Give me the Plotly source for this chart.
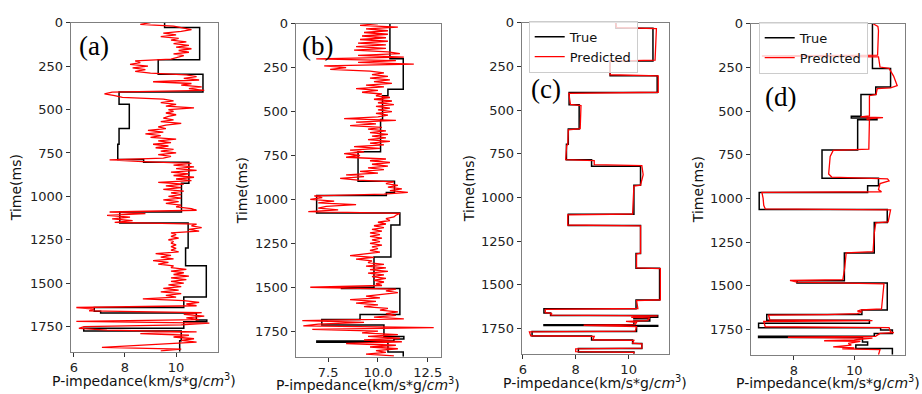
import plotly.graph_objects as go

W, H = 922, 394
Y_END = 1895

# sampling grid (ms) of the noisy predictions in panels (a) and (b)
time_grid_ms = list(range(0, 1900, 10))

# ---------- panel (a) ----------
true_a_top = [0, 28, 213, 297, 399, 469, 609, 700, 788, 803, 925, 1090, 1153, 1298, 1400,
              1580, 1640, 1662, 1672, 1712, 1722, 1760, 1775, 1832]
true_a_val = [9.55, 10.92, 9.30, 11.05, 7.77, 8.17, 7.77, 7.72, 8.73, 10.50, 10.21, 7.80, 10.47, 10.37, 11.18,
              10.30, 6.80, 7.05, 10.79, 11.20, 10.30, 6.39, 10.20, 10.14]
pred_a_val = [
    9.0, 8.6, 9.9, 10.3, 10.6, 10.2, 9.5, 10.0, 9.4, 10.1,
    9.8, 10.4, 9.9, 10.5, 10.0, 10.6, 10.1, 10.5, 9.9, 10.3,
    10.0, 9.8, 8.4, 8.6, 8.2, 8.9, 8.3, 8.8, 8.4, 9.0,
    10.4, 10.8, 10.3, 10.9, 9.1, 10.6, 10.2, 11.0, 10.5, 11.1,
    7.5, 7.2, 7.6, 7.9, 9.5, 9.9, 9.4, 10.0, 9.6, 10.7,
    9.7, 9.9, 9.6, 10.0, 9.7, 9.5, 9.9, 9.4, 10.2, 9.6,
    9.3, 9.6, 8.9, 9.5, 8.8, 9.4, 9.0, 10.0, 9.3, 9.8,
    9.1, 9.7, 9.2, 9.9, 9.4, 10.0, 9.3, 9.8, 9.5, 7.4,
    8.7, 10.6, 9.9, 10.7, 10.0, 10.8, 9.8, 10.5, 9.9, 10.7,
    10.0, 10.6, 9.3, 10.3, 9.6, 10.2, 9.5, 10.3, 9.8, 10.2,
    9.7, 10.2, 9.5, 10.1, 9.6, 10.2, 10.0, 10.6, 10.8, 7.4,
    8.8, 7.3, 8.2, 7.5, 8.3, 7.6, 10.8, 10.6, 11.0, 10.5,
    10.9, 9.8, 10.0, 9.8, 10.1, 9.7, 9.9, 9.8, 10.0, 9.8,
    10.0, 9.8, 10.1, 9.2, 9.8, 9.4, 9.9, 9.1, 9.7, 9.3,
    9.9, 9.8, 10.4, 9.8, 10.3, 9.9, 10.5, 9.8, 10.4, 9.8,
    10.3, 9.7, 10.2, 9.5, 10.1, 9.4, 10.2, 9.6, 10.0, 8.7,
    10.3, 10.9, 10.4, 10.8, 6.1, 6.8, 6.6, 11.0, 10.3, 11.1,
    10.4, 10.9, 6.1, 11.3, 10.2, 6.4, 6.2, 7.3, 10.8, 8.6,
    10.5, 9.9, 10.7, 10.2, 10.8, 9.6, 8.4, 7.1, 10.2, 9.4,
]

# ---------- panel (b) ----------
true_b_top = [0, 200, 373, 410, 545, 729, 897, 961, 978, 1077, 1146, 1328, 1500, 1507,
              1655, 1683, 1715, 1780, 1795, 1806, 1813, 1868]
true_b_val = [10.60, 11.27, 10.50, 10.23, 10.13, 9.00, 10.83, 10.42, 6.92, 11.10, 10.65, 9.80, 8.17, 11.10,
              9.10, 7.18, 10.30, 11.30, 10.80, 6.93, 10.50, 11.27]
pred_b_val = [
    10.0, 9.1, 11.0, 9.4, 10.5, 9.3, 10.5, 9.2, 10.4, 9.1,
    10.5, 9.0, 10.4, 8.9, 10.4, 8.8, 10.5, 11.1, 9.0, 11.3,
    6.9, 10.9, 9.0, 11.8, 7.3, 8.4, 7.6, 9.6, 10.3, 9.7,
    10.5, 9.6, 10.6, 9.8, 10.7, 9.4, 10.3, 8.9, 10.0, 9.2,
    10.2, 9.9, 10.6, 9.8, 10.7, 10.0, 10.8, 9.9, 10.6, 10.0,
    10.7, 9.9, 10.5, 10.0, 8.3, 10.9, 8.9, 9.9, 8.6, 10.2,
    9.5, 10.4, 9.6, 10.5, 9.7, 10.4, 9.5, 10.6, 9.6, 10.3,
    8.8, 10.1, 8.6, 9.3, 8.3, 9.1, 8.4, 10.4, 9.6, 10.6,
    9.7, 10.5, 9.5, 10.3, 9.1, 10.0, 8.4, 9.3, 8.1, 9.0,
    10.8, 10.4, 11.0, 10.5, 11.2, 10.6, 11.5, 10.3, 6.8, 7.2,
    6.6, 7.8, 7.0, 8.9, 7.4, 7.0, 8.0, 6.5, 11.1, 10.9,
    10.8, 10.4, 10.6, 10.0, 10.4, 9.8, 10.3, 9.7, 10.2, 9.6,
    10.1, 9.6, 10.2, 9.7, 10.1, 9.6, 10.2, 9.7, 10.0, 9.6,
    10.1, 9.4, 8.6, 9.8, 8.9, 9.7, 9.5, 10.3, 9.4, 10.4,
    9.6, 10.5, 9.5, 10.3, 9.7, 10.4, 9.8, 10.3, 9.9, 10.2,
    6.6, 10.9, 10.4, 11.0, 10.2, 9.4, 10.1, 8.6, 9.9, 8.9,
    10.0, 9.3, 10.5, 10.1, 11.0, 10.4, 10.9, 9.8, 11.3, 6.2,
    9.3, 7.0, 6.25, 12.8, 6.7, 10.0, 9.2, 11.0, 9.5, 11.1,
    9.3, 11.2, 8.4, 10.9, 9.6, 11.0, 9.9, 10.4, 9.4, 10.8,
]

# ---------- panel (c) ----------
true_c_top = [0, 32, 219, 303, 400, 470, 609, 696, 785, 822, 930, 1097, 1161, 1321, 1405, 1588,
              1638, 1662, 1676, 1686, 1695, 1708, 1729, 1733, 1737, 1768, 1794, 1817, 1837, 1865, 1885]
true_c_val = [9.52, 10.92, 9.30, 11.08, 7.75, 8.13, 7.72, 7.65, 8.60, 10.45, 10.20, 7.72, 10.45, 10.28, 11.17, 10.28,
              6.80, 7.05, 11.10, 10.20, 10.80, 10.20, 6.80, 11.10, 10.30, 6.35, 8.60, 10.15, 10.50, 8.10, 10.20]
pred_c_time = [0, 28, 34, 120, 214, 220, 298, 304, 398, 404, 468, 474, 607, 613, 698, 702, 784, 790, 812, 818,
               870, 930, 935, 1095, 1100, 1158, 1163, 1319, 1324, 1403, 1408, 1586, 1591, 1636, 1641, 1660,
               1664, 1674, 1678, 1686, 1690, 1705, 1710, 1715, 1728, 1732, 1736, 1740, 1766, 1770, 1792,
               1796, 1815, 1819, 1835, 1839, 1863, 1867, 1883, 1887, 1895]
pred_c_val = [9.50, 9.55, 11.05, 11.02, 11.00, 9.30, 9.30, 11.12, 11.12, 7.74, 7.80, 8.20, 8.17, 7.72, 7.70,
              7.66, 7.62, 8.70, 8.70, 10.50, 10.55, 10.45, 10.20, 10.15, 7.70, 7.70, 10.45, 10.45, 10.30,
              10.30, 11.20, 11.20, 10.30, 10.35, 6.85, 6.85, 7.10, 7.05, 11.10, 10.10, 10.80, 10.70, 9.90,
              10.30, 10.25, 8.30, 9.90, 10.30, 10.25, 6.25, 6.30, 8.70, 8.65, 10.20, 10.15, 10.50, 10.50,
              8.00, 8.00, 10.20, 10.20]

# ---------- panel (d) ----------
true_d_top = [0, 256, 362, 405, 530, 540, 550, 723, 885, 928, 966, 1063, 1138, 1312, 1472, 1485, 1639,
              1665, 1698, 1715, 1740, 1754, 1773, 1790, 1797, 1822, 1840, 1860]
true_d_val = [10.60, 11.20, 10.71, 10.22, 9.90, 10.75, 10.11, 8.93, 10.80, 10.44, 6.85, 11.09, 10.66, 9.67,
              8.10, 11.09, 10.25, 7.10, 10.50, 6.83, 10.87, 11.26, 10.66, 6.83, 10.27, 10.44, 10.05, 11.26]
pred_d_time = [0, 15, 40, 100, 180, 185, 190, 248, 256, 300, 355, 368, 372, 405, 412, 528, 533, 538, 545,
               552, 718, 725, 760, 800, 860, 878, 888, 900, 915, 950, 962, 966, 1000, 1040, 1060, 1066,
               1100, 1135, 1140, 1200, 1305, 1312, 1400, 1465, 1470, 1476, 1480, 1490, 1560, 1633, 1639,
               1645, 1650, 1660, 1665, 1668, 1695, 1700, 1705, 1735, 1740, 1765, 1768, 1773, 1790, 1795,
               1800, 1810, 1815, 1818, 1830, 1840, 1850, 1856, 1862, 1866, 1895]
pred_d_val = [10.62, 10.78, 10.80, 10.78, 10.77, 6.94, 10.80, 10.85, 11.15, 11.30, 11.42, 11.20, 10.76,
              10.72, 10.50, 10.50, 10.20, 10.95, 10.40, 10.50, 10.48, 9.30, 9.20, 9.18, 9.15, 9.25, 11.10,
              11.15, 10.85, 10.80, 10.90, 6.94, 6.98, 7.00, 7.05, 11.20, 11.17, 11.12, 10.71, 10.66, 10.62,
              9.73, 9.68, 9.62, 7.87, 8.00, 8.10, 10.98, 10.95, 10.90, 10.22, 10.10, 10.25, 10.10, 9.10,
              7.16, 7.20, 10.60, 7.00, 7.05, 11.15, 11.20, 11.31, 10.85, 10.70, 7.80, 10.60, 10.00, 9.00,
              10.20, 9.80, 9.90, 9.30, 10.00, 9.60, 10.85, 10.80]

y_ticks = [0, 250, 500, 750, 1000, 1250, 1500, 1750]

# layout geometry (pixels): left, right, top, bottom of each plot frame
panels = [
    dict(name="a", box=(68, 216, 16, 351), xr=[5.88, 11.64], xt=[6, 8, 10], xtt=["6", "8", "10"],
         ytitle_x=13, xtitle_y=380, label=(91, 40)),
    dict(name="b", box=(294, 440, 17, 356), xr=[5.87, 13.17], xt=[7.5, 10, 12.5], xtt=["7.5", "10.0", "12.5"],
         ytitle_x=240, xtitle_y=384, label=(316, 40)),
    dict(name="c", box=(521, 669, 16, 353), xr=[5.96, 11.53], xt=[6, 8, 10], xtt=["6", "8", "10"],
         ytitle_x=468, xtitle_y=382, label=(545, 83)),
    dict(name="d", box=(751, 906, 17, 354), xr=[6.57, 11.68], xt=[8, 10], xtt=["8", "10"],
         ytitle_x=698, xtitle_y=382, label=(781, 92)),
]

true_data = [(true_a_top, true_a_val), (true_b_top, true_b_val), (true_c_top, true_c_val), (true_d_top, true_d_val)]
pred_data = [(time_grid_ms, pred_a_val), (time_grid_ms, pred_b_val), (pred_c_time, pred_c_val), (pred_d_time, pred_d_val)]
legend_ids = [None, None, "legend", "legend2"]

fig = go.Figure()
TICKFONT = dict(family="DejaVu Sans", size=13, color="#222222")
annotations = []
layout_axes = {}

for i, p in enumerate(panels):
    n = "" if i == 0 else str(i + 1)
    xa, ya = "x" + n, "y" + n
    tops, vals = true_data[i]
    ptime, pval = pred_data[i]
    show = legend_ids[i] is not None
    kw = dict(legend=legend_ids[i]) if show else {}
    fig.add_trace(go.Scatter(x=vals + [vals[-1]], y=tops + [Y_END], mode="lines", name="True",
                             line=dict(color="black", width=1.5, shape="vh"),
                             xaxis=xa, yaxis=ya, showlegend=show, **kw))
    fig.add_trace(go.Scatter(x=pval, y=ptime, mode="lines", name="Predicted",
                             line=dict(color="red", width=1.3),
                             xaxis=xa, yaxis=ya, showlegend=show, **kw))
    l, r, t, b = p["box"]
    common = dict(showline=True, mirror=True, linecolor="#7f7f7f", linewidth=1, ticks="outside",
                  ticklen=4, tickcolor="#333333", tickfont=TICKFONT, showgrid=False, zeroline=False)
    layout_axes["xaxis" + n] = dict(domain=[l / W, r / W], range=p["xr"], tickvals=p["xt"], ticktext=p["xtt"],
                                    anchor=ya, **common)
    layout_axes["yaxis" + n] = dict(domain=[1 - b / H, 1 - t / H], range=[Y_END, 0], tickvals=y_ticks,
                                    anchor=xa, **common)
    annotations.append(dict(text="Time(ms)", x=p["ytitle_x"] / W, y=1 - ((t + b) / 2) / H, xref="paper",
                            yref="paper", showarrow=False, textangle=-90, xanchor="center", yanchor="middle",
                            font=dict(family="DejaVu Sans", size=14, color="#111111")))
    annotations.append(dict(text="P-impedance(km/s*g/<i>cm</i><sup>3</sup>)", x=((l + r) / 2) / W,
                            y=1 - p["xtitle_y"] / H, xref="paper", yref="paper", showarrow=False,
                            xanchor="center", yanchor="middle",
                            font=dict(family="DejaVu Sans", size=14, color="#111111")))
    annotations.append(dict(text="(" + p["name"] + ")", x=p["label"][0] / W, y=1 - p["label"][1] / H,
                            xref="paper", yref="paper", showarrow=False, xanchor="center", yanchor="middle",
                            font=dict(family="Liberation Serif", size=27, color="black")))

legend_style = dict(bgcolor="rgba(255,255,255,0.8)", bordercolor="#cccccc", borderwidth=1,
                    font=dict(family="DejaVu Sans", size=13, color="#111111"),
                    xanchor="left", yanchor="top", tracegroupgap=0, itemwidth=30)

fig.update_layout(
    width=W, height=H, margin=dict(l=0, r=0, t=0, b=0),
    paper_bgcolor="white", plot_bgcolor="white",
    annotations=annotations,
    legend=dict(x=528 / W, y=1 - 14 / H, **legend_style),
    legend2=dict(x=759 / W, y=1 - 15 / H, **legend_style),
    **layout_axes,
)

fig.write_html("out.html", config={"displayModeBar": False},
               post_script="document.body.style.margin='0';document.body.style.overflow='hidden';")
